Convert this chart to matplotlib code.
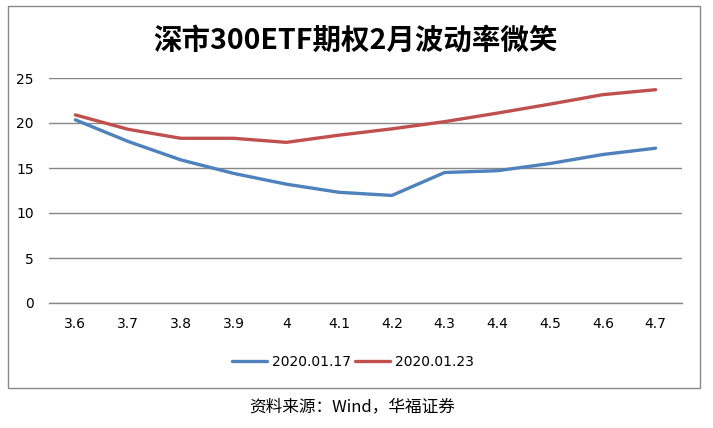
import matplotlib.pyplot as plt
from matplotlib.patches import Rectangle

plt.rcParams['font.family'] = ['Noto Sans CJK SC', 'DejaVu Sans']

strikes = ['3.6', '3.7', '3.8', '3.9', '4', '4.1', '4.2', '4.3', '4.4', '4.5', '4.6', '4.7']
vol_0117 = [20.35, 17.95, 15.9, 14.4, 13.2, 12.3, 11.95, 14.5, 14.7, 15.5, 16.5, 17.2]
vol_0123 = [20.9, 19.3, 18.3, 18.3, 17.85, 18.65, 19.35, 20.15, 21.1, 22.1, 23.15, 23.7]
series_names = ['2020.01.17', '2020.01.23']
yticks = [0, 5, 10, 15, 20, 25]

W, H = 713, 428
fig = plt.figure(figsize=(W / 100, H / 100), dpi=100)
ax = fig.add_axes([49 / W, (H - 303) / H, 633 / W, 225 / H])

x = range(len(strikes))
ax.plot(x, vol_0117, color='#4F81BD', lw=2.4, label=series_names[0], solid_capstyle='round')
ax.plot(x, vol_0123, color='#C0504D', lw=2.4, label=series_names[1], solid_capstyle='round')

ax.set_xlim(-0.5, len(strikes) - 0.5)
ax.set_ylim(0, 25)
ax.set_yticks(yticks)
ax.set_xticks(list(x))
ax.set_xticklabels(strikes)
ax.grid(axis='y', color='#878787', lw=1)
ax.axhline(0, color='#878787', lw=1, clip_on=False, zorder=0.5)
ax.set_axisbelow(True)
for s in ax.spines.values():
    s.set_visible(False)
ax.tick_params(length=0, labelsize=10)
ax.tick_params(axis='x', pad=10)
ax.tick_params(axis='y', pad=11)
for lab in ax.get_xticklabels() + ax.get_yticklabels():
    lab.set_family('DejaVu Sans')

leg = fig.legend(loc='center', bbox_to_anchor=(353 / W, 1 - 362 / H), ncol=2, frameon=False,
                 prop={'family': 'DejaVu Sans', 'size': 10}, handlelength=2.5,
                 columnspacing=0.3, handletextpad=0.35)

fig.text(355 / W, 1 - 41 / H, '深市300ETF期权2月波动率微笑', ha='center', va='center',
         fontsize=20.5, fontweight='bold')
fig.text(352 / W, 1 - 407 / H, '资料来源：Wind，华福证券', ha='center', va='center', fontsize=12)

fig.patches.append(Rectangle((8 / W, 1 - 388 / H), 692 / W, 382 / H, transform=fig.transFigure,
                             fill=False, edgecolor='#888888', lw=1))

fig.savefig('out.png', dpi=100)
